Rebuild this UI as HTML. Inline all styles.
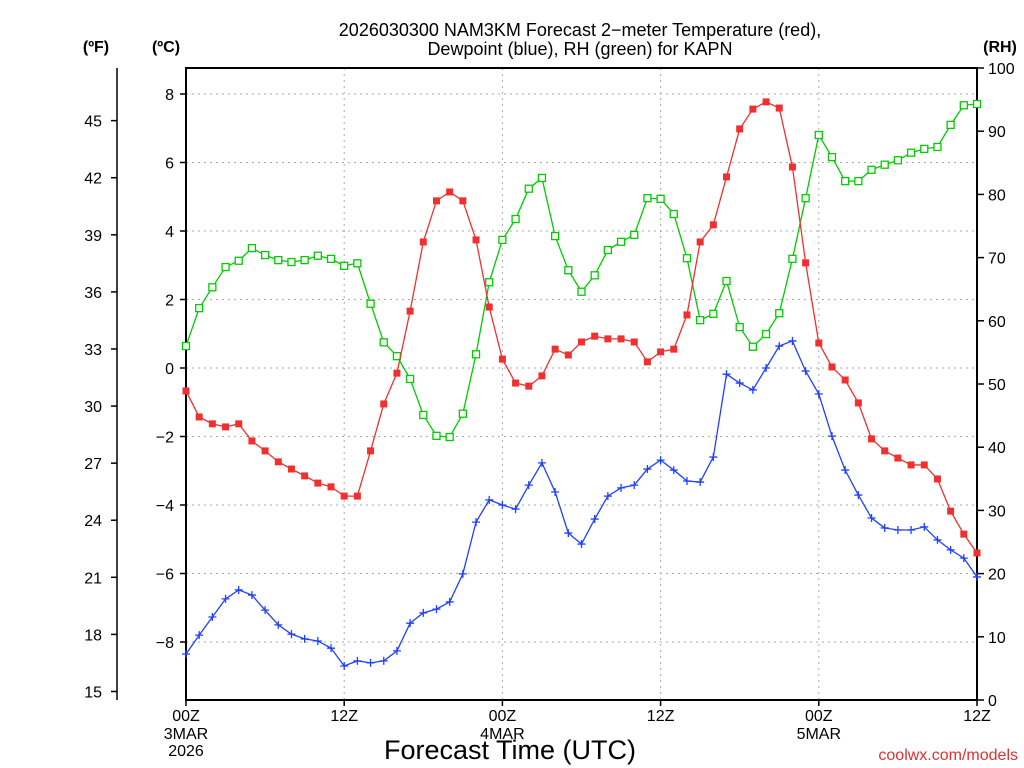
<!DOCTYPE html>
<html><head><meta charset="utf-8"><style>
body{margin:0;background:#fff;}
svg{display:block;font-family:"Liberation Sans",sans-serif;}
</style></head><body>
<svg id="chart" width="1024" height="768"></svg>
<script>
const hours=[];for(let i=0;i<=60;i++)hours.push(i);
const tempC=[-0.67,-1.43,-1.63,-1.72,-1.63,-2.13,-2.42,-2.74,-2.95,-3.15,-3.36,-3.47,-3.74,-3.74,-2.42,-1.05,-0.15,1.66,3.68,4.88,5.14,4.88,3.74,1.78,0.26,-0.44,-0.53,-0.23,0.55,0.38,0.76,0.93,0.85,0.85,0.76,0.18,0.47,0.55,1.55,3.68,4.18,5.58,6.98,7.56,7.77,7.59,5.87,3.07,0.73,0.03,-0.35,-1.02,-2.07,-2.42,-2.63,-2.83,-2.83,-3.24,-4.18,-4.85,-5.40];
const dewC=[-8.35,-7.8,-7.27,-6.74,-6.48,-6.63,-7.07,-7.5,-7.77,-7.91,-7.97,-8.18,-8.7,-8.55,-8.61,-8.55,-8.26,-7.45,-7.15,-7.04,-6.83,-6.01,-4.5,-3.85,-4.0,-4.12,-3.42,-2.77,-3.62,-4.82,-5.14,-4.41,-3.74,-3.5,-3.42,-2.95,-2.69,-2.98,-3.3,-3.33,-2.6,-0.18,-0.44,-0.64,0,0.64,0.79,-0.09,-0.76,-1.99,-2.98,-3.71,-4.38,-4.67,-4.73,-4.73,-4.64,-5.02,-5.31,-5.55,-6.1];
const rh=[56,62,65.3,68.5,69.5,71.5,70.4,69.6,69.3,69.6,70.3,69.8,68.7,69.1,62.7,56.6,54.4,50.8,45.1,41.8,41.6,45.3,54.7,66.1,72.8,76.1,80.9,82.6,73.4,68,64.6,67.2,71.2,72.5,73.6,79.4,79.3,76.9,69.9,60.1,61.1,66.3,59,55.9,57.9,61.2,69.8,79.4,89.4,85.9,82.1,82.1,83.9,84.7,85.4,86.6,87.2,87.5,91,94.1,94.3];
const cTicks=[-8,-6,-4,-2,0,2,4,6,8];
const fTicks=[15,18,21,24,27,30,33,36,39,42,45];
const rhTicks=[0,10,20,30,40,50,60,70,80,90,100];
const xTicks=[0,12,24,36,48,60];
const xLabels=["00Z","12Z","00Z","12Z","00Z","12Z"];

const L=186,R=977,T=68,B=700;
const X=h=>L+(R-L)*h/60;
const YC=c=>368-c*34.25;
const YF=f=>YC((f-32)*5/9);
const YR=r=>B-(B-T)*r/100;
const svg=document.getElementById('chart');const NS='http://www.w3.org/2000/svg';
function el(t,a,p){const e=document.createElementNS(NS,t);for(const k in a)e.setAttribute(k,a[k]);(p||svg).appendChild(e);return e;}
function txt(x,y,s,a,size,anchor,w){const t=el('text',{x:x,y:y,'font-size':size||16,'text-anchor':anchor||'middle','font-weight':w||'normal',fill:'#000'});t.textContent=s;return t;}

// grid
cTicks.forEach(c=>{const g=el('line',{x1:L,x2:R,y1:YC(c),y2:YC(c),stroke:'#aaa','stroke-dasharray':'2,4'});

});
[12,24,36,48].forEach(h=>{const g=el('line',{x1:X(h),x2:X(h),y1:T,y2:B,stroke:'#aaa','stroke-dasharray':'2,4'});

});
// frame
const fr=el('rect',{x:L,y:T,width:R-L,height:B-T,fill:'none',stroke:'#000','stroke-width':2});


// C axis
cTicks.forEach(c=>{el('line',{x1:L-6,x2:L,y1:YC(c),y2:YC(c),stroke:'#000','stroke-width':1.5});
const t=txt(L-12,YC(c)+6,(c<0?'\u2212':'')+Math.abs(c),null,16,'end');

});
// F axis
el('line',{x1:117,x2:117,y1:T,y2:B,stroke:'#000','stroke-width':1.5});
fTicks.forEach(f=>{el('line',{x1:111,x2:117,y1:YF(f),y2:YF(f),stroke:'#000','stroke-width':1.5});
const t=txt(102,YF(f)+6,String(f),null,16,'end');

});
// RH axis
rhTicks.forEach(r=>{el('line',{x1:R,x2:R+7,y1:YR(r),y2:YR(r),stroke:'#000','stroke-width':1.5});
const t=txt(988,YR(r)+6,String(r),null,16,'start');

});
// x axis
xTicks.forEach((h,i)=>{el('line',{x1:X(h),x2:X(h),y1:B,y2:B+6,stroke:'#000','stroke-width':1.5});
const t=txt(X(h),721,xLabels[i],null,16);

});
[['3MAR',0,739],['2026',0,756],['4MAR',24,739],['5MAR',48,739]].forEach(d=>{const t=txt(X(d[1]),d[2],d[0],null,16);

});
let t;
t=txt(510,759,'Forecast Time (UTC)',null,27);
t=txt(1018,760,'coolwx.com/models',null,16,'end');t.setAttribute('fill','#e03030');
t=txt(580,36,'2026030300 NAM3KM Forecast 2\u2212meter Temperature (red),',null,18);
t=txt(580,55,'Dewpoint (blue), RH (green) for KAPN',null,18);
t=txt(96,52,'(\u00baF)',null,16,'middle','bold');
t=txt(166,52,'(\u00baC)',null,16,'middle','bold');
t=txt(1000,52,'(RH)',null,16,'middle','bold');

function series(vals,yf,color,marker,name){
  const pl=el('polyline',{points:vals.map((v,i)=>X(hours[i])+','+yf(v)).join(' '),fill:'none',stroke:color,'stroke-width':1.3});
  
  
  vals.forEach((v,i)=>{const x=X(hours[i]),y=yf(v);let m;
    if(marker==='fill')m=el('rect',{x:x-3.5,y:y-3.5,width:7,height:7,fill:color});
    else if(marker==='open')m=el('rect',{x:x-3.5,y:y-3.5,width:7,height:7,fill:'#fff',stroke:color,'stroke-width':1.3});
    else m=el('path',{d:`M${x-4},${y}H${x+4}M${x},${y-4}V${y+4}`,stroke:color,'stroke-width':1.3});
    
    });
}
series(rh,YR,'#00cc00','open','rh');
series(dewC,YC,'#2040ff','plus','dewpoint');
series(tempC,YC,'#f03030','fill','temperature');
</script>
</body></html>
